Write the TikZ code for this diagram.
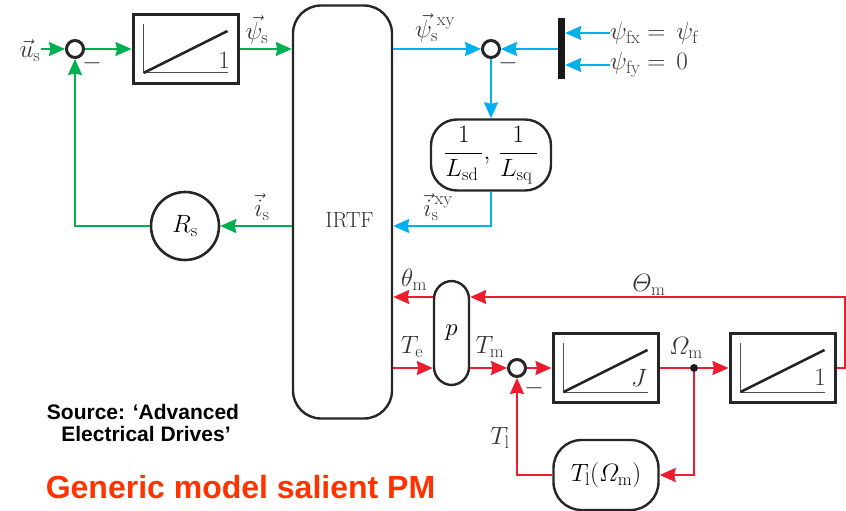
\documentclass[tikz,border=0pt]{standalone}
\usepackage{fix-cm}
\usepackage{amsmath}
\usepackage{fontspec}
\newfontfamily\slidefont{Liberation Sans}
\usetikzlibrary{arrows.meta}
\DeclareMathSizes{25}{25}{18}{14}
\definecolor{statorgreen}{HTML}{00B050}
\definecolor{fluxblue}{HTML}{00B0F0}
\definecolor{torquered}{HTML}{ED1C2E}
\definecolor{titleorange}{HTML}{FF3300}
\newcommand{\labelsize}{\fontsize{25}{28}\selectfont}
\tikzset{
  block/.style={draw=black!85, line width=3pt, minimum width=105pt, minimum height=69pt, inner sep=0pt},
  gain/.style={draw=black!85, line width=2.4pt, rounded corners=#1, inner sep=0pt},
  sumpoint/.style={circle, draw=black!85, line width=3pt, fill=white, minimum size=17pt, inner sep=0pt},
  lab/.style={inner sep=0pt, font=\labelsize, text=black!80},
  signal/.style={line width=2pt, -{Stealth[length=16pt,width=14pt,inset=1.5pt]}},
  line/.style={line width=2pt},
}
\newcommand{\rampsign}[1]{
  \draw[black!70, line width=1pt] ([shift={(-42,-25)}]#1.center) -- ([shift={(-42,24)}]#1.center) -- ([shift={(42,24)}]#1.center);
  \draw[black!85, line width=2.6pt] ([shift={(-42,24)}]#1.center) -- ([shift={(42,-18)}]#1.center);
}
\begin{document}
\begin{tikzpicture}[x=1pt, y=-1pt]
  \useasboundingbox (0,0) rectangle (846,511);
  % stator part
  \node[lab] (us) at (30,51) {$\vec{u}_{\mathrm{s}}$};
  \node[sumpoint] (sumU) at (75,49) {};
  \node[block] (intFlux) at (185.5,49) {};
  \node[gain=28pt, minimum width=99pt, minimum height=413pt] (irtf) at (342.5,212) {};
  \node[inner sep=0pt, font=\fontsize{22}{26}\selectfont, text=black!80] (irtfText) at (349.5,220) {IRTF};
  \node[circle, draw=black!85, line width=2.6pt, minimum size=68pt, inner sep=0pt] (Rs) at (185,226) {\labelsize $R_{\mathrm{s}}$};
  \node[lab] at (224,60) {1};
  \node[lab] (psis) at (257,30) {$\vec{\psi}_{\mathrm{s}}$};
  \node[lab] (is) at (262,207) {$\vec{i}_{\mathrm{s}}$};
  \node[lab] at (92,63) {$-$};
  % flux part
  \node[lab] (psixy) at (435,28) {$\vec{\psi}_{\mathrm{s}}^{\;\mathrm{xy}}$};
  \node[lab] (ixy) at (438,207) {$\vec{i}_{\mathrm{s}}^{\,\mathrm{xy}}$};
  \node[sumpoint] (sumPsi) at (491,49) {};
  \node[lab] at (508,63) {$-$};
  \node[fill=black!90, minimum width=7pt, minimum height=61pt, inner sep=0pt] (bar) at (561.5,49) {};
  \node[lab, anchor=west] (psifx) at (610,33) {$\psi_{\mathrm{fx}}\;{=}\;\,\psi_{\mathrm{f}}$};
  \node[lab, anchor=west] (psify) at (610,65) {$\psi_{\mathrm{fy}}\;{=}\;\,0$};
  \node[gain=26pt, minimum width=120pt, minimum height=71pt] (invL) at (491,155) {\labelsize $\dfrac{1}{L_{\mathrm{sd}}\,},\,\dfrac{1}{L_{\mathrm{sq}}\,}$};
  % mechanical part
  \node[gain=18pt, minimum width=35pt, minimum height=104pt] (pp) at (451.5,333) {\labelsize $p$};
  \node[sumpoint] (sumT) at (517,368) {};
  \node[block] (intJ) at (605.5,368) {};
  \node[block] (intOm) at (782.5,368) {};
  \node[gain=28pt, minimum width=105pt, minimum height=70pt] (Tl) at (606,475) {\labelsize $T_{\mathrm{l}}(\varOmega_{\mathrm{m}})$};
  \node[circle, fill=black!90, minimum size=8pt, inner sep=0pt] (dot) at (694,368) {};
  \coordinate (back) at (845,368);
  \node[lab] at (639,378) {$J$};
  \node[lab] at (820,377) {1};
  \node[lab] (thetam) at (414,280) {$\theta_{\mathrm{m}}$};
  \node[lab] (Thetam) at (649,285) {$\varTheta_{\mathrm{m}}$};
  \node[lab] (Te) at (412,347) {$T_{\mathrm{e}}$};
  \node[lab] (Tm) at (490,347) {$T_{\mathrm{m}}$};
  \node[lab] (Om) at (686,348) {$\varOmega_{\mathrm{m}}$};
  \node[lab] (Tlabel) at (500,438) {$T_{\mathrm{l}}$};
  \node[lab] at (534,388) {$-$};
  \foreach \b in {intFlux,intJ,intOm} {\rampsign{\b}}
  % connectors
  \draw[signal, statorgreen] (us.east |- sumU) -- (sumU);
  \draw[signal, statorgreen] (sumU) -- (intFlux);
  \draw[signal, statorgreen] (intFlux) -- (irtf.west |- intFlux);
  \draw[signal, statorgreen] (irtf.west |- Rs) -- (Rs);
  \draw[signal, statorgreen] (Rs) -| (sumU);
  \draw[signal, fluxblue] (irtf.east |- sumPsi) -- (sumPsi);
  \draw[signal, fluxblue] (bar) -- (sumPsi);
  \draw[signal, fluxblue] (psifx) -- (psifx -| bar.east);
  \draw[signal, fluxblue] (psify) -- (psify -| bar.east);
  \draw[signal, fluxblue] (sumPsi) -- (invL);
  \draw[signal, fluxblue] (invL) |- (irtf.east |- Rs);
  \draw[signal, torquered] (pp.west |- 0,297) -- (irtf.east |- 0,297);
  \draw[signal, torquered] (irtf.east |- sumT) -- (pp.west |- sumT);
  \draw[signal, torquered] (pp.east |- sumT) -- (sumT);
  \draw[signal, torquered] (sumT) -- (intJ);
  \draw[line, torquered] (intJ) -- (dot);
  \draw[signal, torquered] (dot) -- (intOm);
  \draw[signal, torquered] (dot) |- (Tl);
  \draw[signal, torquered] (Tl) -| (sumT);
  \draw[signal, torquered] (intOm) -- (back) |- (pp.east |- 0,297);
  % captions
  \node[inner sep=0pt, align=center, font=\slidefont\bfseries\fontsize{21}{22}\selectfont] (source) at (143,423) {Source: ‘Advanced\\ \hspace*{6pt}Electrical Drives’};
  \node[inner sep=0pt, font=\slidefont\bfseries\fontsize{32}{36}\selectfont, text=titleorange] (title) at (240.5,487) {Generic model salient PM};
\end{tikzpicture}
\end{document}
